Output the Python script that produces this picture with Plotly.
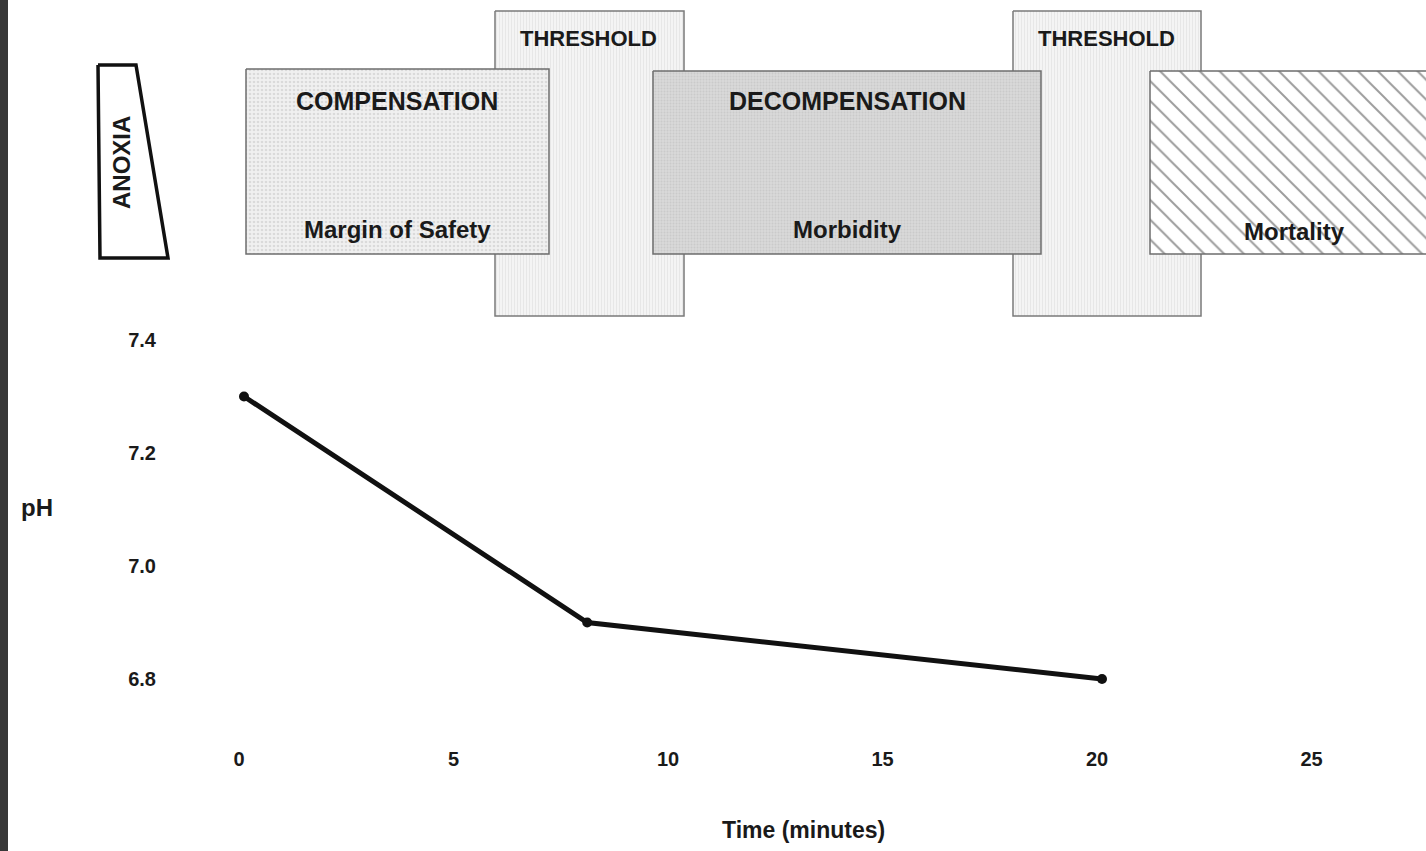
import plotly.graph_objects as go

# ---- data ----
time_min = [0, 8, 20]
ph_values = [7.3, 6.9, 6.8]
x_tick_vals = [0, 5, 10, 15, 20, 25]
y_tick_vals = [6.8, 7.0, 7.2, 7.4]
y_tick_text = ["6.8", "7.0", "7.2", "7.4"]

# ---- diagram (pixel layout of the schematic above the chart) ----
W, H = 1426, 851
FONT = "Liberation Sans, Arial, sans-serif"

threshold_boxes = [(495, 684, 11, 316), (1013, 1201, 11, 316)]
phase_boxes = [
    ("comp", 246, 549, 69, 254),
    ("decomp", 653, 1041, 71, 254),
    ("mort", 1150, 1440, 71, 254),
]
anoxia_poly_x = [98, 136, 168, 100, 98]
anoxia_poly_y = [65, 65, 258, 258, 65]

# data axis pixel mapping
x0_px, px_per_min = 244, 42.9
y74_px, px_per_ph = 340, 565.0
x_range = [-x0_px / px_per_min, (W - x0_px) / px_per_min]
y_range = [7.4 - (H - y74_px) / px_per_ph, 7.4 + y74_px / px_per_ph]

fig = go.Figure()


def rect(x0, x1, y0, y1):
    return [x0, x1, x1, x0, x0], [y0, y0, y1, y1, y0]


for (a, b, c, d) in threshold_boxes:
    xs, ys = rect(a, b, c, d)
    fig.add_trace(go.Scatter(
        x=xs, y=ys, xaxis="x2", yaxis="y2", mode="lines", fill="toself",
        line=dict(color="#7a7a7a", width=1.5),
        fillpattern=dict(shape="|", size=3, solidity=0.25,
                         fgcolor="#d2d2d2", bgcolor="#f4f4f4"),
        hoverinfo="skip", showlegend=False))

styles = {
    "comp": dict(shape=".", size=4, solidity=0.35, fgcolor="#c4c4c4", bgcolor="#f0f0f0"),
    "decomp": dict(shape=".", size=3, solidity=0.35, fgcolor="#bcbcbc", bgcolor="#d8d8d8"),
    "mort": dict(shape="\\", size=14, solidity=0.14, fgcolor="#3a3a3a", bgcolor="#ffffff"),
}
for (name, a, b, c, d) in phase_boxes:
    xs, ys = rect(a, b, c, d)
    fig.add_trace(go.Scatter(
        x=xs, y=ys, xaxis="x2", yaxis="y2", mode="lines", fill="toself",
        line=dict(color="#6e6e6e", width=1.5),
        fillpattern=styles[name],
        hoverinfo="skip", showlegend=False))

fig.add_trace(go.Scatter(
    x=anoxia_poly_x, y=anoxia_poly_y, xaxis="x2", yaxis="y2", mode="lines",
    fill="toself", fillcolor="white", line=dict(color="#111111", width=3.5),
    hoverinfo="skip", showlegend=False))

# ---- the pH curve ----
fig.add_trace(go.Scatter(
    x=time_min, y=ph_values, mode="lines+markers",
    line=dict(color="#111111", width=5),
    marker=dict(color="#111111", size=10),
    showlegend=False))

annotations = []


def txt(x, y, s, size, angle=0):
    annotations.append(dict(
        x=x, y=y, xref="x2", yref="y2", text=s, showarrow=False,
        textangle=angle, xanchor="center", yanchor="middle",
        font=dict(family=FONT, size=size, color="#1a1a1a", weight="bold")))


txt(121, 163, "ANOXIA", 24, -90)
txt(588, 38, "THRESHOLD", 22)
txt(1106, 38, "THRESHOLD", 22)
txt(397, 101, "COMPENSATION", 25)
txt(397, 229, "Margin of Safety", 24)
txt(847, 101, "DECOMPENSATION", 25)
txt(847, 229, "Morbidity", 24)
txt(1294, 231, "Mortality", 24)
txt(37, 507, "pH", 24)
txt(803, 830, "Time (minutes)", 23)

fig.update_layout(
    width=W, height=H,
    margin=dict(l=0, r=0, t=0, b=0),
    paper_bgcolor="white", plot_bgcolor="white",
    annotations=annotations,
    shapes=[dict(type="rect", xref="paper", yref="paper", x0=0, x1=8 / W,
                 y0=0, y1=1, fillcolor="#383838", line=dict(width=0), layer="above")],
    xaxis=dict(range=x_range, domain=[0, 1], anchor="free",
               position=(H - 745) / H,
               tickvals=x_tick_vals, ticks="", showline=False, showgrid=False,
               zeroline=False, automargin=False, ticklabelshift=-5,
               tickfont=dict(family=FONT, size=20, color="#1a1a1a", weight="bold")),
    yaxis=dict(range=y_range, domain=[0, 1], anchor="free",
               position=156 / W,
               tickvals=y_tick_vals, ticktext=y_tick_text, ticks="",
               showline=False, showgrid=False, zeroline=False, automargin=False,
               tickfont=dict(family=FONT, size=20, color="#1a1a1a", weight="bold")),
    xaxis2=dict(range=[0, W], domain=[0, 1], overlaying="x", anchor="y2",
                visible=False),
    yaxis2=dict(range=[H, 0], domain=[0, 1], overlaying="y", anchor="x2",
                visible=False),
)

fig.write_html("out.html", config={"displayModeBar": False},
               post_script="document.body.style.margin='0';")
